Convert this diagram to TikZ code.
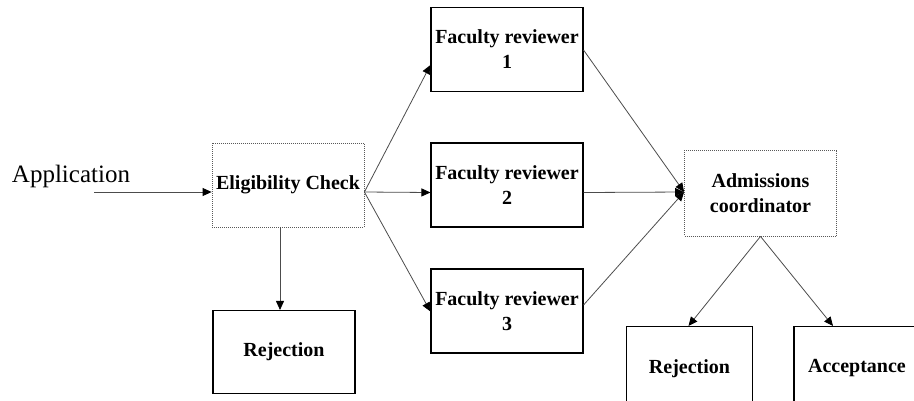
\documentclass[tikz,border=0pt]{standalone}
\usepackage{fontspec}
\setmainfont{Liberation Serif}
\usetikzlibrary{arrows.meta}
\begin{document}
\begin{tikzpicture}[x=1pt,y=-1pt,
  box/.style={draw=black, line width=1.1pt, inner sep=0pt, align=center,
    font=\bfseries\fontsize{20}{25}\selectfont},
  dotbox/.style={box, draw=black!65, line width=0.8pt, dash pattern=on 1pt off 1pt},
  conn/.style={draw=black!70, line width=0.8pt,
    -{Triangle[length=9pt,width=8pt,color=black]}}
]
\useasboundingbox (0,0) rectangle (914,400);

% boxes
\node[dotbox, minimum width=152pt, minimum height=84pt] (ec) at (288,185)
  {\raisebox{-6pt}{Eligibility Check}};
\node[box, minimum width=152pt, minimum height=84pt] (f1) at (507,49.5) {Faculty reviewer\\1};
\node[box, minimum width=152pt, minimum height=84pt] (f2) at (507,185) {Faculty reviewer\\2};
\node[box, minimum width=152pt, minimum height=84pt] (f3) at (507,311) {Faculty reviewer\\3};
\node[box, minimum width=142pt, minimum height=83pt] (rej1) at (284,352) {Rejection};
\node[dotbox, minimum width=152pt, minimum height=86pt] (ac) at (760.5,193)
  {Admissions\\coordinator};
\node[box, minimum width=126pt, minimum height=84pt] (rej2) at (689.5,368.5) {\raisebox{2pt}{Rejection}};
\node[box, minimum width=200pt, minimum height=84pt] (acc) at (894,368.5) {\hspace*{-74pt}\raisebox{2pt}{Acceptance}};

% input label
\node[font=\fontsize{25}{28}\selectfont, inner sep=0pt] (app) at (71,176) {Application};
\coordinate (in) at (94,192);

% connectors
\draw[conn] (in) -- ([yshift=-7pt]ec.west);
\draw[conn] ([yshift=-7pt]ec.east) -- ([yshift=-15.5pt]f1.west);
\draw[conn] ([yshift=-7pt]ec.east) -- ([yshift=-7.5pt]f2.west);
\draw[conn] ([yshift=-7pt]ec.east) -- ([yshift=-0.5pt]f3.west);
\draw[conn] (ec.south -| 280,0) -- (rej1.north -| 280,0);
\draw[conn] ([yshift=-0.5pt]f1.east) -- ([yshift=1pt]ac.west);
\draw[conn] ([yshift=-7.5pt]f2.east) -- ([yshift=1pt]ac.west);
\draw[conn] ([yshift=6pt]f3.east) -- ([yshift=1pt]ac.west);
\draw[conn] (ac.south) -- ([xshift=-1pt]rej2.north);
\draw[conn] (ac.south) -- ([xshift=-61pt]acc.north);
\end{tikzpicture}
\end{document}
